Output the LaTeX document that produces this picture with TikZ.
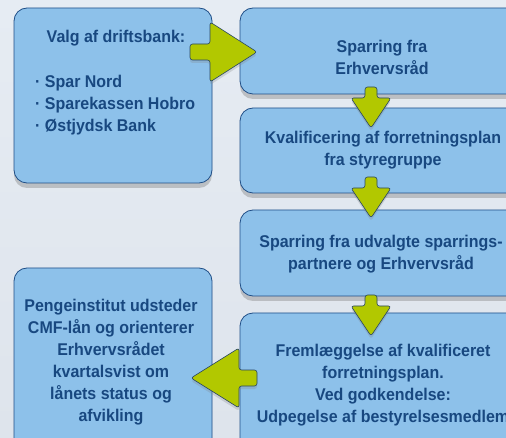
\documentclass[tikz,border=0pt]{standalone}
\usepackage{fontspec}
\setmainfont{Liberation Sans}[FakeStretch=0.94]
\usetikzlibrary{shadows}
\definecolor{boxblue}{RGB}{141,193,234}
\definecolor{edgeblue}{RGB}{31,78,135}
\definecolor{textblue}{RGB}{24,72,128}
\definecolor{arrowgreen}{RGB}{178,200,0}
\definecolor{arrowedge}{RGB}{40,70,100}
\definecolor{bgtop}{RGB}{230,236,243}
\definecolor{bgmid}{RGB}{210,214,218}
\definecolor{bgbot}{RGB}{222,228,236}
% green arrow pointing down, #1 = top of the shaft
\newcommand{\greendown}[1]{%
  \draw[blockarrow,shift={(#1)}] (-6,0) -- (6,0) -- (6,11) -- (20,11) -- (0,41) -- (-20,11) -- (-6,11) -- cycle;}
\begin{document}
\begin{tikzpicture}[x=1pt,y=-1pt,
    box/.style={draw=edgeblue,fill=boxblue,rounded corners=13pt,line width=0.8pt,inner sep=0pt,
      drop shadow={shadow xshift=0pt,shadow yshift=-5pt,opacity=.4}},
    boxtext/.style={text=textblue,font=\fontsize{17}{22}\selectfont\bfseries,align=center,inner sep=0pt},
    blockarrow/.style={draw=arrowedge,fill=arrowgreen,line width=0.6pt,rounded corners=2.5pt,
      drop shadow={shadow xshift=0pt,shadow yshift=-3pt,opacity=.25}}]
  \useasboundingbox (0,0) rectangle (506,438);
  \clip (0,0) rectangle (506,438);
  \shade[top color=bgtop,middle color=bgmid,bottom color=bgbot] (0,0) rectangle (506,438);
  % boxes
  \node[box,minimum width=198pt,minimum height=175pt] (drift) at (113,95.5) {};
  \node[box,minimum width=198pt,minimum height=192pt] (cmf) at (113,364) {};
  \node[box,minimum width=290pt,minimum height=86pt] (sparring) at (385,51) {};
  \node[box,minimum width=290pt,minimum height=85pt] (kval) at (385,150.5) {};
  \node[box,minimum width=290pt,minimum height=86pt] (partner) at (385,253) {};
  \node[box,minimum width=290pt,minimum height=147pt] (frem) at (385,386.5) {};
  % texts
  \node[boxtext,anchor=base] (titel) at (116,43) {Valg af driftsbank:};
  \node[boxtext,align=left,anchor=west] (banker) at (35,105.5) {· Spar Nord\\· Sparekassen Hobro\\· Østjydsk Bank};
  \node[boxtext] (t1) at (382,57) {Sparring fra\\Erhvervsråd};
  \node[boxtext] (t2) at (383,150.5) {Kvalificering af forretningsplan\\fra styregruppe};
  \node[boxtext] (t3) at (381,254) {Sparring fra udvalgte sparrings-\\partnere og Erhvervsråd};
  \node[boxtext] (t4) at (383,385) {Fremlæggelse af kvalificeret\\forretningsplan.\\Ved godkendelse:\\Udpegelse af bestyrelsesmedlem};
  \node[boxtext] (t5) at (111,362) {Pengeinstitut udsteder\\CMF-lån og orienterer\\Erhvervsrådet\\kvartalsvist om\\lånets status og\\afvikling};
  % arrows
  \coordinate (p1) at (371,87);
  \coordinate (p2) at (371,177);
  \coordinate (p3) at (371,295);
  \greendown{p1}
  \greendown{p2}
  \greendown{p3}
  \draw[blockarrow,shift={(190,52)}] (0,-8) -- (20,-8) -- (20,-30) -- (67,0) -- (20,30) -- (20,8) -- (0,8) -- cycle;
  \draw[blockarrow,shift={(257,378)}] (0,-8) -- (-18,-8) -- (-18,-30) -- (-66,0) -- (-18,30) -- (-18,8) -- (0,8) -- cycle;
\end{tikzpicture}
\end{document}
